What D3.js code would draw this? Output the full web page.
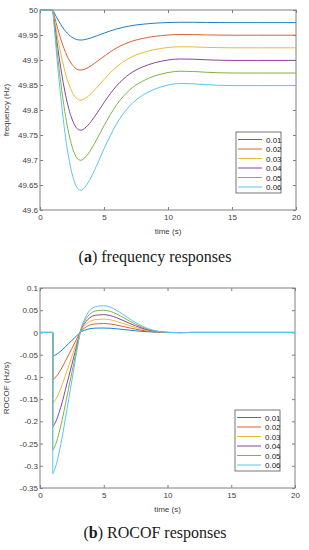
<!DOCTYPE html>
<html>
<head>
<meta charset="utf-8">
<title>frequency and ROCOF responses</title>
<script src="https://d3js.org/d3.v7.min.js"></script>
<style>
body { margin: 0; background: #fff; }
svg text { font-family: "Liberation Sans", Arial, sans-serif; }
.tick text { font-size: 8px; fill: #404040; }
.tick line { stroke: #808080; }
.caption { font-family: "Liberation Serif", "Times New Roman", serif !important; font-size: 16px; fill: #1a1a1a; }
</style>
</head>
<body>
<div id="chart"></div>
<script>
// legend names and colours (matlab default order, a bit washed like the jpeg)
var seriesNames = ["0.01", "0.02", "0.03", "0.04", "0.05", "0.06"];
var seriesColors = ["#1f80c6", "#dc6230", "#eeb835", "#8a449a", "#82b443", "#5ec4f0"];

var xTicks = [0, 5, 10, 15, 20];

// (a) frequency responses
var freqTime = [0, 1, 1.25, 1.5, 1.75, 2, 2.25, 2.5, 2.75, 3, 3.2, 3.5, 3.75, 4, 4.5, 5, 5.5, 6, 6.5, 7, 7.5, 8, 8.5, 9, 9.5, 10, 11, 12, 13, 14, 15, 17, 20];
var freq001 = [50, 50, 49.9876, 49.9761, 49.9660, 49.9574, 49.9506, 49.9455, 49.9420, 49.9402, 49.9399, 49.9409, 49.9424, 49.9443, 49.9489, 49.9537, 49.9582, 49.9622, 49.9654, 49.9680, 49.9700, 49.9715, 49.9727, 49.9737, 49.9744, 49.9750, 49.9755, 49.9754, 49.9751, 49.9749, 49.9748, 49.9748, 49.9748];
var freq002 = [50, 50, 49.9752, 49.9522, 49.9320, 49.9148, 49.9012, 49.8910, 49.8840, 49.8804, 49.8798, 49.8818, 49.8848, 49.8886, 49.8978, 49.9074, 49.9164, 49.9244, 49.9308, 49.9360, 49.9400, 49.9430, 49.9454, 49.9474, 49.9488, 49.9500, 49.9510, 49.9508, 49.9502, 49.9498, 49.9496, 49.9496, 49.9496];
var freq003 = [50, 50, 49.9628, 49.9283, 49.8980, 49.8722, 49.8518, 49.8365, 49.8260, 49.8206, 49.8197, 49.8227, 49.8272, 49.8329, 49.8467, 49.8611, 49.8746, 49.8866, 49.8962, 49.9040, 49.9100, 49.9145, 49.9181, 49.9211, 49.9232, 49.9250, 49.9265, 49.9262, 49.9253, 49.9247, 49.9244, 49.9244, 49.9244];
var freq004 = [50, 50, 49.9504, 49.9044, 49.8640, 49.8296, 49.8024, 49.7820, 49.7680, 49.7608, 49.7596, 49.7636, 49.7696, 49.7772, 49.7956, 49.8148, 49.8328, 49.8488, 49.8616, 49.8720, 49.8800, 49.8860, 49.8908, 49.8948, 49.8976, 49.9000, 49.9020, 49.9016, 49.9004, 49.8996, 49.8992, 49.8992, 49.8992];
var freq005 = [50, 50, 49.9380, 49.8805, 49.8300, 49.7870, 49.7530, 49.7275, 49.7100, 49.7010, 49.6995, 49.7045, 49.7120, 49.7215, 49.7445, 49.7685, 49.7910, 49.8110, 49.8270, 49.8400, 49.8500, 49.8575, 49.8635, 49.8685, 49.8720, 49.8750, 49.8775, 49.8770, 49.8755, 49.8745, 49.8740, 49.8740, 49.8740];
var freq006 = [50, 50, 49.9256, 49.8566, 49.7960, 49.7444, 49.7036, 49.6730, 49.6520, 49.6412, 49.6394, 49.6454, 49.6544, 49.6658, 49.6934, 49.7222, 49.7492, 49.7732, 49.7924, 49.8080, 49.8200, 49.8290, 49.8362, 49.8422, 49.8464, 49.8500, 49.8530, 49.8524, 49.8506, 49.8494, 49.8488, 49.8488, 49.8488];
var freqTicks = [49.6, 49.65, 49.7, 49.75, 49.8, 49.85, 49.9, 49.95, 50];
var freqTickLabels = ["49.6", "49.65", "49.7", "49.75", "49.8", "49.85", "49.9", "49.95", "50"];

// (b) ROCOF responses, step at t = 1 s (first three points: flat part and the jump)
var rocofTime = [0, 1, 1, 1.25, 1.5, 1.75, 2, 2.25, 2.5, 2.75, 3, 3.15, 3.25, 3.5, 3.75, 4, 4.5, 5, 5.5, 6, 6.5, 7, 7.5, 8, 8.5, 9, 10, 11, 12, 20];
var rocof001 = [0, 0, -0.053, -0.050, -0.045, -0.039, -0.032, -0.025, -0.018, -0.011, -0.004, 0, 0.002, 0.005, 0.0073, 0.0087, 0.0098, 0.0100, 0.0095, 0.0083, 0.0068, 0.0052, 0.0037, 0.0024, 0.0014, 0.0007, 0, -0.0001, 0, 0];
var rocof002 = [0, 0, -0.106, -0.100, -0.090, -0.078, -0.064, -0.050, -0.036, -0.022, -0.008, 0, 0.004, 0.010, 0.0146, 0.0174, 0.0196, 0.0200, 0.0190, 0.0166, 0.0136, 0.0104, 0.0074, 0.0048, 0.0028, 0.0014, 0, -0.0002, 0, 0];
var rocof003 = [0, 0, -0.159, -0.150, -0.135, -0.117, -0.096, -0.075, -0.054, -0.033, -0.012, 0, 0.006, 0.015, 0.0219, 0.0261, 0.0294, 0.0300, 0.0285, 0.0249, 0.0204, 0.0156, 0.0111, 0.0072, 0.0042, 0.0021, 0, -0.0003, 0, 0];
var rocof004 = [0, 0, -0.212, -0.200, -0.180, -0.156, -0.128, -0.100, -0.072, -0.044, -0.016, 0, 0.008, 0.020, 0.0292, 0.0348, 0.0392, 0.0400, 0.0380, 0.0332, 0.0272, 0.0208, 0.0148, 0.0096, 0.0056, 0.0028, 0, -0.0004, 0, 0];
var rocof005 = [0, 0, -0.265, -0.250, -0.225, -0.195, -0.160, -0.125, -0.090, -0.055, -0.020, 0, 0.010, 0.025, 0.0365, 0.0435, 0.0490, 0.0500, 0.0475, 0.0415, 0.0340, 0.0260, 0.0185, 0.0120, 0.0070, 0.0035, 0, -0.0005, 0, 0];
var rocof006 = [0, 0, -0.318, -0.300, -0.270, -0.234, -0.192, -0.150, -0.108, -0.066, -0.024, 0, 0.012, 0.030, 0.0438, 0.0522, 0.0588, 0.0600, 0.0570, 0.0498, 0.0408, 0.0312, 0.0222, 0.0144, 0.0084, 0.0042, 0, -0.0006, 0, 0];
var rocofTicks = [-0.35, -0.3, -0.25, -0.2, -0.15, -0.1, -0.05, 0, 0.05, 0.1];
var rocofTickLabels = ["-0.35", "-0.3", "-0.25", "-0.2", "-0.15", "-0.1", "-0.05", "0", "0.05", "0.1"];

var svg = d3.select("#chart").append("svg")
    .attr("width", 309)
    .attr("height", 550);

function drawPanel(opt) {
  var m = opt.margin, w = opt.width, h = opt.height;
  var g = svg.append("g").attr("transform", "translate(" + m.left + "," + m.top + ")");

  var x = d3.scaleLinear().domain([0, 20]).range([0, w]);
  var y = d3.scaleLinear().domain(opt.yDomain).range([h, 0]);

  // frame
  g.append("rect")
    .attr("width", w).attr("height", h)
    .attr("fill", "none").attr("stroke", "#808080").attr("stroke-width", 1);

  // inward ticks on all four sides (matlab look)
  g.append("g").attr("transform", "translate(0," + h + ")")
    .call(d3.axisBottom(x).tickValues(xTicks).tickSizeInner(-3).tickSizeOuter(0).tickPadding(4));
  g.append("g")
    .call(d3.axisTop(x).tickValues(xTicks).tickSizeInner(-3).tickSizeOuter(0).tickFormat(""));
  g.append("g")
    .call(d3.axisLeft(y).tickValues(opt.yTicks).tickSizeInner(-3).tickSizeOuter(0).tickPadding(2)
      .tickFormat(function(d, i) { return opt.yLabels[i]; }));
  g.append("g").attr("transform", "translate(" + w + ",0)")
    .call(d3.axisRight(y).tickValues(opt.yTicks).tickSizeInner(-3).tickSizeOuter(0).tickFormat(""));
  g.selectAll(".domain").remove();

  // lines: straight part before the disturbance, smooth curve after it
  var lineStraight = d3.line()
    .x(function(d) { return x(d[0]); })
    .y(function(d) { return y(d[1]); });
  var lineSmooth = d3.line()
    .x(function(d) { return x(d[0]); })
    .y(function(d) { return y(d[1]); })
    .curve(d3.curveMonotoneX);
  opt.series.forEach(function(vals, k) {
    var pts = opt.time.map(function(t, i) { return [t, vals[i]]; });
    var head = pts.slice(0, opt.split + 1);
    var tail = pts.slice(opt.split);
    g.append("path")
      .attr("d", lineStraight(head) + lineSmooth(tail).replace(/^M/, "L"))
      .attr("fill", "none")
      .attr("stroke", seriesColors[k])
      .attr("stroke-width", 1);
  });

  // axis labels
  g.append("text")
    .attr("x", w / 2).attr("y", h + 24)
    .attr("text-anchor", "middle")
    .style("font-size", "8px").attr("fill", "#404040")
    .text("time (s)");
  g.append("text")
    .attr("transform", "translate(" + (-31) + "," + (h / 2) + ") rotate(-90)")
    .attr("text-anchor", "middle")
    .style("font-size", "8px").attr("fill", "#404040")
    .text(opt.yTitle);

  // legend
  var lg = g.append("g").attr("transform", "translate(" + (w - 60) + "," + (h - 78) + ")");
  lg.append("rect")
    .attr("width", 45).attr("height", 61)
    .attr("fill", "#fff").attr("stroke", "#555").attr("stroke-width", 0.8);
  seriesNames.forEach(function(name, k) {
    var yy = 7.5 + k * 9.5;
    lg.append("line")
      .attr("x1", 2).attr("x2", 26).attr("y1", yy).attr("y2", yy)
      .attr("stroke", seriesColors[k]).attr("stroke-width", 1);
    lg.append("text")
      .attr("x", 30).attr("y", yy + 3)
      .style("font-size", "8px").attr("fill", "#222")
      .text(name);
  });

  // caption under the panel
  var cap = svg.append("text")
    .attr("class", "caption")
    .attr("x", 155).attr("y", opt.captionY)
    .attr("text-anchor", "middle");
  cap.append("tspan").text("(");
  cap.append("tspan").style("font-weight", "bold").text(opt.letter);
  cap.append("tspan").text(") " + opt.caption);
}

drawPanel({
  margin: {top: 10, left: 40},
  width: 256, height: 200,
  yDomain: [49.6, 50],
  yTicks: freqTicks, yLabels: freqTickLabels,
  yTitle: "frequency (Hz)",
  time: freqTime, split: 1,
  series: [freq001, freq002, freq003, freq004, freq005, freq006],
  letter: "a", caption: "frequency responses",
  captionY: 262
});

drawPanel({
  margin: {top: 288, left: 40},
  width: 255, height: 200,
  yDomain: [-0.35, 0.1],
  yTicks: rocofTicks, yLabels: rocofTickLabels,
  yTitle: "ROCOF (Hz/s)",
  time: rocofTime, split: 2,
  series: [rocof001, rocof002, rocof003, rocof004, rocof005, rocof006],
  letter: "b", caption: "ROCOF responses",
  captionY: 538
});
</script>
</body>
</html>
